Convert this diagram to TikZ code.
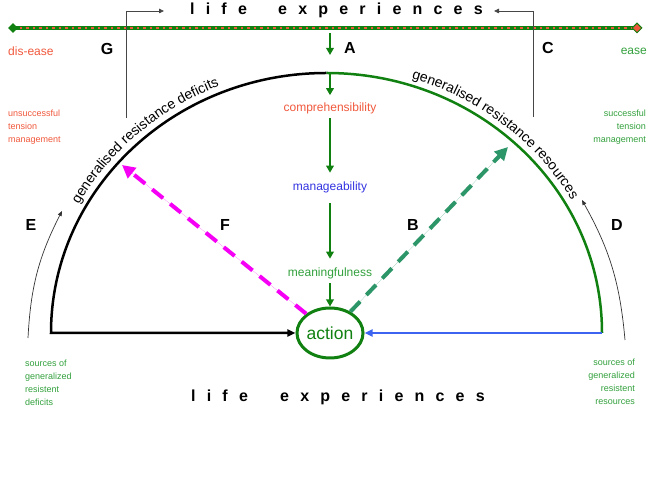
\documentclass[tikz,border=0pt]{standalone}
\usepackage{fontspec}
\setmainfont{Liberation Sans}
\usetikzlibrary{arrows.meta,shapes.geometric,decorations.text}
\definecolor{cgreen}{RGB}{16,128,16}
\definecolor{tgreen}{RGB}{50,160,60}
\definecolor{corange}{RGB}{240,88,60}
\definecolor{cblue}{RGB}{60,100,240}
\definecolor{tblue}{RGB}{50,50,225}
\definecolor{cmag}{RGB}{245,0,245}
\definecolor{cteal}{RGB}{45,150,105}
\definecolor{cgray}{RGB}{70,70,70}
\begin{document}
\begin{tikzpicture}[x=1pt,y=1pt,
  title/.style={font=\fontsize{16}{16}\selectfont\bfseries\addfontfeature{LetterSpace=70}, inner sep=0pt, anchor=base west},
  letter/.style={font=\fontsize{16}{16}\selectfont\bfseries, inner sep=0pt},
  lab/.style={font=\fontsize{12}{14}\selectfont, inner sep=0pt},
  small/.style={font=\fontsize{9}{13}\selectfont, inner sep=0pt},
  garrow/.style={draw=cgreen, line width=2.5pt, -{Triangle[length=7pt,width=7.5pt]}},
  brk/.style={draw=cgray, line width=0.8pt, -{Triangle[length=5pt,width=4.5pt]}},
  thinarrow/.style={draw=black!80, line width=0.7pt, -{Triangle[length=5pt,width=4pt]}},
  dasharrow/.style={line width=4pt, dash pattern=on 14pt off 9pt, -{Triangle[length=13pt,width=13pt]}},
  arctext/.style={decorate, decoration={text along path, text align=center, text={|\fontsize{14}{14}\selectfont|#1}}}
]
\useasboundingbox (0,0) rectangle (653,481);

% top bar
\coordinate (bl) at (13,453);
\coordinate (br) at (637,453);
\draw[cgreen, line width=4pt] (bl) -- (br);
\draw[corange, line width=2.4pt, dash pattern=on 2.5pt off 4pt] (bl) -- (br);
\node[diamond, fill=cgreen, minimum size=10pt, inner sep=0pt] (dl) at (bl) {};
\node[diamond, fill=corange, draw=cgreen, line width=1pt, minimum size=10pt, inner sep=0pt] (dr) at (br) {};

% titles
\node[title] (t1) at (190,466) {life};
\node[title] (t2) at (278,466) {experiences};
\node[title] (b1) at (191,79) {life};
\node[title] (b2) at (280,79) {experiences};

% brackets
\coordinate (gb) at (126,363);
\coordinate (gt) at (164,470);
\coordinate (cb) at (533,364);
\coordinate (ct) at (494,470);
\draw[brk] (gb) |- (gt);
\draw[brk] (cb) |- (ct);

% labels
\node[lab, text=corange, anchor=west] (disease) at (8,430) {dis-ease};
\node[lab, text=tgreen, anchor=east] (ease) at (647,430) {ease};
\node[letter] (G) at (107,432) {G};
\node[letter] (A) at (350,433) {A};
\node[letter] (C) at (548,433) {C};
\node[letter] (E) at (31,256) {E};
\node[letter] (F) at (225,256) {F};
\node[letter] (B) at (413,256) {B};
\node[letter] (D) at (617,256) {D};

% side texts
\node[small, text=corange, anchor=north west, align=left] (unsucc) at (8,371) {unsuccessful\\tension\\management};
\node[small, text=tgreen, anchor=north east, align=right] (succ) at (646,371) {successful\\tension\\management};
\node[small, text=tgreen, anchor=north west, align=left] (srcL) at (25,121) {sources of\\generalized\\resistent\\deficits};
\node[small, text=tgreen, anchor=north east, align=right] (srcR) at (635,122) {sources of\\generalized\\resistent\\resources};

% semicircle
\coordinate (O) at (326.5,148);
\coordinate (arcT) at (326.5,408);
\coordinate (arcR) at (602,148);
\node[ellipse, draw=cgreen, line width=3pt, minimum width=61pt, minimum height=50pt, inner sep=0pt, text=cgreen, font=\fontsize{17.5}{18}\selectfont] (action) at (330,148) {action};
\draw[black, line width=2.5pt, -{Triangle[length=8pt,width=7pt]}] (arcT) arc[start angle=90, end angle=180, x radius=275.5pt, y radius=260pt] -- (action);
\draw[cgreen, line width=2.5pt] (arcT) arc[start angle=90, end angle=0, x radius=275.5pt, y radius=260pt];
\draw[cblue, line width=2.5pt, -{Triangle[length=8pt,width=7pt]}] (arcR) -- (action);

% arc texts
\path[arctext={generalised resistance deficits}] ([shift={(162:282.5pt and 267pt)}]O) arc[start angle=162, end angle=102, x radius=282.5pt, y radius=267pt];
\path[arctext={generalised resistance resources}] ([shift={(81:282.5pt and 267pt)}]O) arc[start angle=81, end angle=21, x radius=282.5pt, y radius=267pt];

% central column
\coordinate (a0) at (330,448);
\coordinate (a1) at (330,426);
\coordinate (aTop) at (330,408);
\node[lab, text=corange] (compr) at (330,373) {comprehensibility};
\node[lab, text=tblue] (manag) at (330,294) {manageability};
\node[lab, text=tgreen] (meaning) at (330,208) {meaningfulness};
\draw[garrow] (a0) -- (a1);
\draw[garrow, shorten >=7pt] (aTop) -- (compr);
\draw[garrow, shorten <=4.5pt, shorten >=8.5pt] (compr) -- (manag);
\draw[garrow, shorten <=10pt, shorten >=8.5pt] (manag) -- (meaning);
\draw[garrow, shorten <=4.5pt] (meaning) -- (action);

% dashed arrows
\coordinate (tipF) at (122,316);
\coordinate (tipB) at (508,334);
\draw[dasharrow, draw=cmag, fill=cmag] (action) -- (tipF);
\draw[dasharrow, draw=cteal, fill=cteal] (action) -- (tipB);

% small curved arrows
\coordinate (eb) at (28,143);
\coordinate (et) at (62,270);
\coordinate (db) at (625,141);
\coordinate (dt) at (582,281);
\draw[thinarrow] (eb) to[bend left=12] (et);
\draw[thinarrow] (db) to[bend right=12] (dt);
\end{tikzpicture}
\end{document}
